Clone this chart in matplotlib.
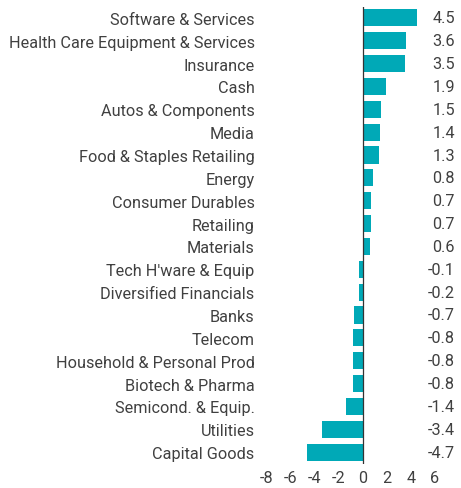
import matplotlib
matplotlib.use("Agg")
import matplotlib.pyplot as plt
from matplotlib.transforms import blended_transform_factory

categories = ["Software & Services", "Health Care Equipment & Services", "Insurance", "Cash",
              "Autos & Components", "Media", "Food & Staples Retailing", "Energy",
              "Consumer Durables", "Retailing", "Materials", "Tech H'ware & Equip",
              "Diversified Financials", "Banks", "Telecom", "Household & Personal Prod",
              "Biotech & Pharma", "Semicond. & Equip.", "Utilities", "Capital Goods"]
# bar lengths as drawn in the picture
values = [4.5, 3.6, 3.5, 1.9, 1.5, 1.4, 1.3, 0.8, 0.7, 0.7, 0.6, -0.35, -0.35, -0.75,
          -0.8, -0.8, -0.8, -1.4, -3.4, -4.7]
# printed value labels
value_labels = ["4.5", "3.6", "3.5", "1.9", "1.5", "1.4", "1.3", "0.8", "0.7", "0.7", "0.6",
                "-0.1", "-0.2", "-0.7", "-0.8", "-0.8", "-0.8", "-1.4", "-3.4", "-4.7"]
xticks = [-8, -6, -4, -2, 0, 2, 4, 6]

plt.rcParams['font.family'] = ['Roboto', 'DejaVu Sans']
txt = '#404040'
fs = 11.7
fig = plt.figure(figsize=(4.61, 4.89), dpi=100)
ax = fig.add_axes([267/461, 1-464.5/489, 168/461, (464.5-7.5)/489])
y = list(range(len(categories)))
ax.barh(y, values, height=0.75, color='#00A9B7', zorder=2)
ax.set_ylim(len(categories)-0.5, -0.5)
ax.set_xlim(-8, 6)
ax.set_xticks(xticks)
ax.set_xticklabels([str(t) for t in xticks])
ax.set_yticks(y)
ax.set_yticklabels(categories)
for s in ax.spines.values():
    s.set_visible(False)
ax.tick_params(axis='both', length=0, labelsize=fs, colors=txt, pad=9)
ax.tick_params(axis='x', pad=5)
ax.axvline(0, color='#333333', lw=0.9, zorder=3)
tr = blended_transform_factory(fig.transFigure, ax.transData)
for yi, lab in zip(y, value_labels):
    ax.text(455/461, yi, lab, transform=tr, ha='right', va='center',
            fontsize=fs, color=txt)
fig.savefig("out.png", dpi=100)
